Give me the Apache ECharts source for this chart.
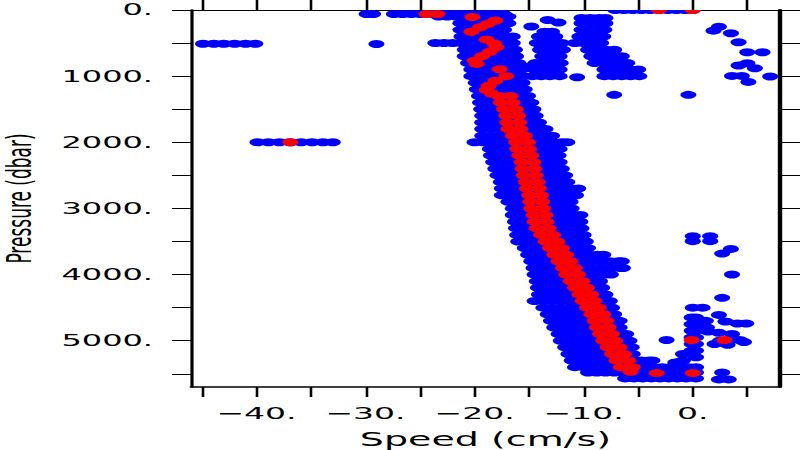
<!DOCTYPE html>
<html><head><meta charset="utf-8">
<script src="https://cdn.jsdelivr.net/npm/echarts@6/dist/echarts.min.js"></script>
<style>
html,body{margin:0;padding:0;background:#fff;overflow:hidden;width:800px;height:450px}
#chart{width:400px;height:450px;transform:scaleX(2);transform-origin:0 0}
</style></head><body><div id="chart"></div>
<script>
// ---- axis ticks / labels ----
const xTickValues = [-45,-40,-35,-30,-25,-20,-15,-10,-5,0,5];
const xLabelValues = [-40,-30,-20,-10,0];
const yTickValues = [0,500,1000,1500,2000,2500,3000,3500,4000,4500,5000,5500];
const yLabelValues = [0,1000,2000,3000,4000,5000];

// ---- blue points: main band, rows of [pressure, speeds] ----
const bandRows = [
 [60, [-29.9,-29.3,-27.4,-26.6,-25.8,-25.0,-24.2,-23.4,-22.6,-21.8,-21.0,-20.2,-19.4,-18.6,-17.8,-17.3]],
 [100, [-23.3,-22.5,-21.7,-20.9,-20.1,-19.3,-18.5,-17.7,-16.9]],
 [200, [-21.3,-20.5,-19.7,-18.9,-18.1,-17.3,-16.9]],
 [300, [-21.3,-20.5,-19.7,-18.9,-18.1,-17.3]],
 [400, [-21.2,-20.4,-19.6,-18.8,-18.0,-17.2,-16.5]],
 [500, [-23.6,-22.8,-22.0,-21.2,-20.4,-19.6,-18.8,-18.0,-17.2,-16.5]],
 [600, [-20.9,-20.1,-19.3,-18.5,-17.7,-16.9,-16.3]],
 [700, [-20.9,-20.1,-19.3,-18.5,-17.7,-16.9,-16.2]],
 [800, [-20.6,-19.8,-19.0,-18.2,-17.4,-16.6,-16.0]],
 [900, [-20.3,-19.5,-18.7,-17.9,-17.1,-16.3,-15.7]],
 [1000, [-20.3,-19.5,-18.7,-17.9,-17.1,-16.3,-15.5,-14.7,-13.9,-13.1,-12.2]],
 [1100, [-19.9,-19.1,-18.3,-17.5,-16.7,-15.9,-15.6]],
 [1200, [-19.8,-19.0,-18.2,-17.4,-16.6,-15.8,-15.4]],
 [1300, [-19.6,-18.8,-18.0,-17.2,-16.4,-15.6,-15.1]],
 [1400, [-19.5,-18.7,-17.9,-17.1,-16.3,-15.5,-14.8]],
 [1500, [-19.4,-18.6,-17.8,-17.0,-16.2,-15.4,-14.6]],
 [1600, [-19.3,-18.5,-17.7,-16.9,-16.1,-15.3,-14.4]],
 [1700, [-19.3,-18.5,-17.7,-16.9,-16.1,-15.3,-14.5,-14.1]],
 [1800, [-19.3,-18.5,-17.7,-16.9,-16.1,-15.3,-14.5,-13.9,-13.5]],
 [1900, [-19.3,-18.5,-17.7,-16.9,-16.1,-15.3,-14.5,-13.7,-12.9]],
 [2000, [-20.0,-19.2,-18.4,-17.6,-16.8,-16.0,-15.2,-14.4,-13.6,-12.8,-12.0,-11.5]],
 [2100, [-18.6,-17.8,-17.0,-16.2,-15.4,-14.6,-13.8,-13.0,-12.2]],
 [2200, [-18.5,-17.7,-16.9,-16.1,-15.3,-14.5,-13.7,-12.9,-12.3]],
 [2300, [-18.3,-17.5,-16.7,-15.9,-15.1,-14.3,-13.5,-12.7,-12.2]],
 [2400, [-18.1,-17.3,-16.5,-15.7,-14.9,-14.1,-13.3,-12.5,-12.0]],
 [2500, [-17.9,-17.1,-16.3,-15.5,-14.7,-13.9,-13.1,-12.3,-11.7]],
 [2600, [-17.6,-16.8,-16.0,-15.2,-14.4,-13.6,-12.8,-12.0,-11.5]],
 [2700, [-17.5,-16.7,-15.9,-15.1,-14.3,-13.5,-12.7,-11.9,-11.1,-10.5]],
 [2800, [-17.5,-16.7,-15.9,-15.1,-14.3,-13.5,-12.7,-11.9,-11.1,-10.7]],
 [2900, [-16.9,-16.1,-15.3,-14.5,-13.7,-12.9,-12.1,-11.2]],
 [3000, [-16.5,-15.7,-14.9,-14.1,-13.3,-12.5,-11.7,-11.1]],
 [3100, [-16.5,-15.7,-14.9,-14.1,-13.3,-12.5,-11.7,-10.9,-10.3]],
 [3200, [-16.3,-15.5,-14.7,-13.9,-13.1,-12.3,-11.5,-10.7,-10.3]],
 [3300, [-16.2,-15.4,-14.6,-13.8,-13.0,-12.2,-11.4,-10.6,-10.2]],
 [3400, [-16.1,-15.3,-14.5,-13.7,-12.9,-12.1,-11.3,-10.5,-10.0]],
 [3500, [-16.0,-15.2,-14.4,-13.6,-12.8,-12.0,-11.2,-10.4,-9.8]],
 [3600, [-15.4,-14.6,-13.8,-13.0,-12.2,-11.4,-10.6,-10.0,-9.6]],
 [3700, [-15.1,-14.3,-13.5,-12.7,-11.9,-11.1,-10.3,-9.5,-8.7,-8.2]],
 [3800, [-14.8,-14.0,-13.2,-12.4,-11.6,-10.8,-10.0,-9.2,-8.4,-7.6,-6.8,-6.5]],
 [3900, [-14.6,-13.8,-13.0,-12.2,-11.4,-10.6,-9.8,-9.0,-8.2,-7.4,-6.6,-6.4]],
 [4000, [-14.5,-13.7,-12.9,-12.1,-11.3,-10.5,-9.7,-8.9,-8.1,-7.5]],
 [4100, [-14.3,-13.5,-12.7,-11.9,-11.1,-10.3,-9.5,-8.9,-8.5]],
 [4200, [-14.2,-13.4,-12.6,-11.8,-11.0,-10.2,-9.4,-8.6,-8.3]],
 [4300, [-14.1,-13.3,-12.5,-11.7,-10.9,-10.1,-9.3,-8.5,-8.0]],
 [4400, [-14.5,-13.7,-12.9,-12.1,-11.3,-10.5,-9.7,-8.9,-8.1,-7.6]],
 [4500, [-13.7,-12.9,-12.1,-11.3,-10.5,-9.7,-8.9,-8.1,-7.4]],
 [4600, [-13.3,-12.5,-11.7,-10.9,-10.1,-9.3,-8.5,-7.7,-7.2]],
 [4700, [-13.0,-12.2,-11.4,-10.6,-9.8,-9.0,-8.2,-7.4,-6.7]],
 [4800, [-12.7,-11.9,-11.1,-10.3,-9.5,-8.7,-7.9,-7.1,-6.7]],
 [4900, [-12.3,-11.5,-10.7,-9.9,-9.1,-8.3,-7.5,-6.7,-6.1]],
 [5000, [-12.1,-11.3,-10.5,-9.7,-8.9,-8.1,-7.3,-6.5,-5.8]],
 [5100, [-11.7,-10.9,-10.1,-9.3,-8.5,-7.7,-6.9,-6.1,-5.6]],
 [5200, [-11.4,-10.6,-9.8,-9.0,-8.2,-7.4,-6.6,-5.8,-5.5]],
 [5300, [-11.1,-10.3,-9.5,-8.7,-7.9,-7.1,-6.3,-5.5,-4.7,-4.0,-3.7]],
 [5400, [-10.8,-10.0,-9.2,-8.4,-7.6,-6.8,-6.0,-5.2,-4.4,-3.6,-2.8,-2.0,-1.2,-0.4,0.3]],
 [5480, [-9.6,-8.8,-8.0,-7.2,-6.4,-5.6,-4.8,-4.0,-3.2,-2.4,-1.6,-0.8,0.0,0.3]],
 [5570, [-6.2,-5.4,-4.6,-3.8,-3.0,-2.2,-1.4,-0.6,0.3]]
];
// ---- blue points: isolated rows to the left ----
const tongueRows = [
 [510, [-44.9,-43.9,-43.0,-42.0,-41.0,-40.1]],
 [2000, [-39.9,-38.9,-37.9,-36.9,-35.9,-34.9,-33.9,-33.0]]
];
// ---- blue points: [speed, pressure] ----
const cluster2 = [[-14.8,250],[-13.3,150],[-12.3,190],[-13.6,330],[-12.9,330],[-14.1,400],[-13.3,400],[-12.6,400],
 [-14.3,500],[-13.5,500],[-12.7,500],[-12.0,500],[-14.0,600],[-13.2,600],[-12.4,600],[-11.9,600],
 [-13.8,700],[-13.0,700],[-12.2,700],[-14.4,800],[-13.6,800],[-12.8,800],[-12.1,800],[-14.9,850],
 [-14.5,900],[-13.7,900],[-12.9,900],[-12.2,900]];
const cluster3 = [[-10.2,120],[-9.4,120],[-8.6,120],[-8.0,120],[-10.2,200],[-9.4,200],[-8.6,200],[-8.0,200],
 [-10.2,300],[-9.4,300],[-8.6,300],[-8.1,300],[-10.4,400],[-9.6,400],[-8.8,400],[-8.2,400],
 [-10.8,500],[-10.0,500],[-9.2,500],[-8.4,500],[-9.6,600],[-8.8,600],[-8.0,600],[-7.2,600],
 [-9.3,700],[-8.5,700],[-7.7,700],[-6.9,700],[-6.5,700],[-9.0,800],[-8.2,800],[-7.4,800],[-6.6,800],[-6.0,800],
 [-8.1,900],[-7.3,900],[-6.5,900],[-5.7,900],[-5.0,900],[-8.1,1000],[-7.3,1000],[-6.5,1000],[-5.7,1000],[-4.9,1000]];
const cluster4 = [[2.4,252],[1.9,312],[3.5,352],[4.2,488],[5.0,639],[6.4,639],[5.0,805],[4.2,840],[5.7,881],
 [3.6,996],[4.5,996],[5.1,1087],[7.1,1006]];
const nearZero = [[0.0,3420],[1.6,3420],[0.0,3495],[1.6,3495],[3.5,3612],[2.7,3683],[3.6,4000],[2.7,4352],
 [0.0,4500],[0.9,4500],[-0.1,4650],[0.3,4650],[1.2,4700],[-0.1,4750],[0.3,4750],[1.3,4800],[-0.1,4850],[0.3,4850],
 [-0.1,4950],[0.3,4950],[-0.1,5050],[0.3,5050],[-0.1,5150],[0.3,5150],[-0.9,5200],[0.3,5250],[-0.9,5300],[-1.6,5330],
 [2.4,4610],[3.0,4710],[4.1,4740],[4.9,4740],[1.4,4860],[2.4,4880],[3.6,4900],[4.3,4990],[4.7,5020],
 [2.0,5050],[3.2,5060],[2.5,5000],[3.6,4980],[-2.4,4990],[2.7,5480],[2.4,5585],[3.3,5585]];
const isolated = [[-29.0,513],[-10.6,1016],[-7.2,1283],[-0.4,1283]];
// blue points sitting on the top edge (pressure 0)
const blueSurface = [-7.1,-6.3,-5.5,-4.7,-3.9,-3.1,-2.3,-1.5,-0.7,0.0];

// ---- red points: [speed, pressure] ----
const redPoints = [[-24.4,60],[-23.4,60],[-20.2,105],[-18.1,160],[-18.8,210],[-19.5,260],[-20.3,330],
 [-18.9,445],[-18.2,505],[-18.0,565],[-18.6,630],[-19.3,695],[-20.0,765],[-19.8,815],
 [-17.7,895],[-17.1,1000],[-18.1,1070],[-18.7,1145],[-18.9,1210],[-18.4,1265],
 [-17.8,1300],[-16.7,1300],[-17.6,1400],[-16.5,1400],[-17.3,1500],[-16.2,1500],[-17.1,1600],[-16.0,1600],
 [-17.0,1700],[-15.9,1700],[-16.9,1800],[-15.8,1800],[-16.5,1900],[-15.4,1900],[-16.2,2000],[-15.1,2000],
 [-16.1,2100],[-15.0,2100],[-15.9,2200],[-14.8,2200],[-15.7,2300],[-14.6,2300],[-15.6,2400],[-14.5,2400],
 [-15.5,2500],[-14.4,2500],[-15.3,2600],[-14.2,2600],[-15.2,2700],[-14.1,2700],[-15.0,2800],[-13.9,2800],
 [-14.9,2900],[-13.8,2900],[-14.8,3000],[-13.7,3000],[-14.6,3100],[-13.5,3100],[-14.5,3200],[-13.4,3200],
 [-14.3,3300],[-13.2,3300],[-13.9,3400],[-12.8,3400],[-13.5,3500],[-12.4,3500],[-13.1,3600],[-12.0,3600],
 [-12.7,3700],[-11.6,3700],[-12.3,3800],[-11.2,3800],[-11.9,3900],[-10.8,3900],[-11.6,4000],[-10.5,4000],
 [-11.2,4100],[-10.1,4100],[-10.8,4200],[-9.7,4200],[-10.4,4300],[-9.3,4300],[-10.1,4400],[-9.0,4400],
 [-9.7,4500],[-8.6,4500],[-9.3,4600],[-8.2,4600],[-9.0,4700],[-7.9,4700],[-8.8,4800],[-7.7,4800],
 [-8.5,4900],[-7.4,4900],[-8.2,5000],[-7.1,5000],[-7.8,5100],[-6.7,5100],[-7.4,5200],[-6.3,5200],
 [-7.0,5300],[-5.9,5300],[-6.6,5400],[-5.5,5400],[-5.7,5470],
 [-3.3,5490],[0.0,5490],[-0.1,4990],[2.9,4990],[-36.9,2000]];
const redSurface = [-3.1,0.0];

// ---- assemble ----
const blueData = [];
bandRows.concat(tongueRows).forEach(([p, xs]) => xs.forEach(x => blueData.push([x, p])));
[cluster2, cluster3, cluster4, nearZero, isolated].forEach(a => a.forEach(pt => blueData.push(pt)));
const halfDot = 'path://M0,0 L20,0 C20,5.5 15.5,10 10,10 C4.5,10 0,5.5 0,0 Z';
const BLUE = '#0000ff', RED = '#ff0000';
const FONT = 'DejaVu Sans';
const fmt = v => (v < 0 ? '\u2212' + Math.abs(v) : String(v)) + '.';

const chart = echarts.init(document.getElementById('chart'), null, {renderer: 'svg'});
const xBase = {type: 'value', min: -46, max: 8, splitLine: {show: false}};
const yBase = {type: 'value', min: 0, max: 5700, inverse: true, splitLine: {show: false}};
const dot = (data, color, half) => ({
  type: 'scatter', xAxisIndex: 0, yAxisIndex: 0, data: data, silent: true,
  symbol: half ? halfDot : 'circle', symbolSize: half ? [8, 4] : 8, symbolOffset: half ? [0, 2] : [0, 0],
  itemStyle: {color: color, opacity: 1}
});
chart.setOption({
  animation: false,
  backgroundColor: '#ffffff',
  grid: {left: 95.5, right: 10, top: 10, bottom: 63, containLabel: false, outerBoundsMode: 'none'},
  xAxis: [
    Object.assign({}, xBase, {
      position: 'bottom',
      axisLine: {onZero: false, lineStyle: {color: '#000', width: 1.6}},
      axisTick: {customValues: xTickValues, length: 10, lineStyle: {color: '#000', width: 1.3}},
      axisLabel: {customValues: xLabelValues, formatter: fmt, margin: 18, color: '#000', fontFamily: FONT, fontSize: 16.5},
      name: 'Speed (cm/s)', nameLocation: 'middle', nameGap: 43,
      nameTextStyle: {color: '#000', fontFamily: FONT, fontSize: 19}
    }),
    Object.assign({}, xBase, {
      position: 'top',
      axisLine: {onZero: false, lineStyle: {color: '#000', width: 1.2}},
      axisTick: {customValues: xTickValues, length: 10, lineStyle: {color: '#000', width: 1.3}},
      axisLabel: {show: false}
    })
  ],
  yAxis: [
    Object.assign({}, yBase, {
      position: 'left',
      axisLine: {onZero: false, lineStyle: {color: '#000', width: 1.6}},
      axisTick: {customValues: yTickValues, length: 9.5, lineStyle: {color: '#000', width: 1}},
      axisLabel: {customValues: yLabelValues, formatter: fmt, margin: 19, color: '#000', fontFamily: FONT, fontSize: 16},
      name: 'Pressure (dbar)', nameLocation: 'middle', nameGap: 77.5,
      nameTextStyle: {color: '#000', fontFamily: FONT, fontSize: 17}
    }),
    Object.assign({}, yBase, {
      position: 'right',
      axisLine: {onZero: false, lineStyle: {color: '#000', width: 2.2}},
      axisTick: {customValues: yTickValues, length: 10, lineStyle: {color: '#000', width: 1}},
      axisLabel: {show: false}
    })
  ],
  series: [
    dot(blueData, BLUE, false),
    dot(blueSurface.map(x => [x, 0]), BLUE, true),
    dot(redPoints, RED, false),
    dot(redSurface.map(x => [x, 0]), RED, true)
  ]
});
</script></body></html>
